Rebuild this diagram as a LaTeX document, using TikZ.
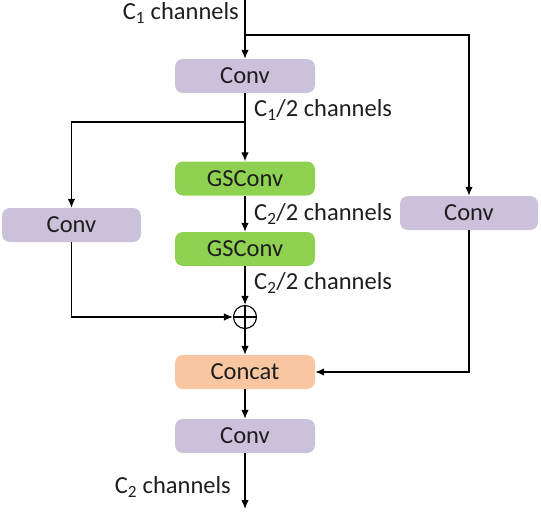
\documentclass[tikz,border=0pt]{standalone}
\usepackage{fontspec}
\setmainfont{Carlito}
\usetikzlibrary{arrows.meta,calc}
\definecolor{convc}{HTML}{CCC1DA}
\definecolor{gsc}{HTML}{8FD150}
\definecolor{catc}{HTML}{F8C6A0}
\definecolor{txtc}{HTML}{1E1E1E}
\begin{document}
\begin{tikzpicture}[x=1pt,y=-1pt,
  blk/.style={rectangle,rounded corners=8pt,minimum width=140pt,minimum height=34pt,inner sep=0pt,text=txtc,font=\fontsize{24.5}{29}\selectfont},
  convbox/.style={blk,fill=convc},
  gsbox/.style={blk,fill=gsc},
  catbox/.style={blk,fill=catc},
  lbl/.style={inner sep=0pt,text=txtc,font=\fontsize{24.5}{29}\selectfont},
  conn/.style={line width=1.3pt,black},
  arr/.style={conn,-{Latex[length=9pt,width=7.5pt]}}
]
\useasboundingbox (0,0) rectangle (541,514);
\node[convbox] (conv1) at (245,76) {Conv};
\node[gsbox] (gs1) at (245,178.5) {GSConv};
\node[gsbox] (gs2) at (245,249) {GSConv};
\node[convbox,minimum width=139pt] (convL) at (71.5,225) {Conv};
\node[convbox,minimum width=138pt] (convR) at (469,213) {Conv};
\node[draw,circle,line width=1.1pt,minimum size=23pt,inner sep=0pt] (plus) at (245,317) {};
\draw[line width=1.1pt] (plus.north) -- (plus.south) (plus.west) -- (plus.east);
\node[catbox] (concat) at (245,372) {Concat};
\node[convbox] (conv3) at (245,436) {Conv};
\coordinate (in) at (245,0);
\coordinate (out) at (245,509);
\coordinate (b1) at (245,35);
\coordinate (b2) at (245,122);
% labels
\node[lbl,anchor=east] (l0) at (239,13) {C\textsubscript{1} channels};
\node[lbl,anchor=west] (l1) at (254,110) {C\textsubscript{1}/2 channels};
\node[lbl,anchor=west] (l2) at (254,214) {C\textsubscript{2}/2 channels};
\node[lbl,anchor=west] (l3) at (254,283) {C\textsubscript{2}/2 channels};
\node[lbl,anchor=east] (l4) at (231,487) {C\textsubscript{2} channels};
% connectors
\draw[arr] (in) -- (conv1.north);
\draw[arr] (b1) -| (convR.north);
\draw[arr] (conv1.south) -- (gs1.north);
\draw[arr] (b2) -| (convL.north);
\draw[arr] (gs1.south) -- (gs2.north);
\draw[arr] (gs2.south) -- (plus.north);
\draw[arr] (convL.south) |- (plus.west);
\draw[arr] (plus.south) -- (concat.north);
\draw[arr] (convR.south) |- (concat.east);
\draw[arr] (concat.south) -- (conv3.north);
\draw[arr] (conv3.south) -- (out);
\end{tikzpicture}
\end{document}
